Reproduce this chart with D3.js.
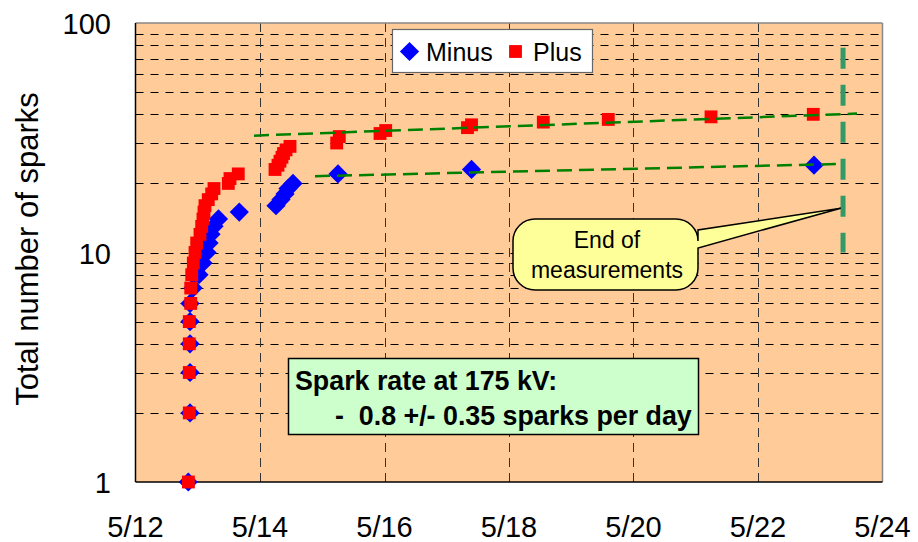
<!DOCTYPE html>
<html>
<head>
<meta charset="utf-8">
<script src="https://cdn.jsdelivr.net/npm/d3@7"></script>
<style>
  html, body { margin: 0; padding: 0; background: #fff; }
  svg { display: block; font-family: Arial, "Liberation Sans", sans-serif; }
</style>
</head>
<body>
<svg id="chart" width="918" height="542"></svg>
<script>
// ---- Data (day of May, cumulative number of sparks) ----
const minusDays   = [12.848, 12.876, 12.876, 12.876, 12.876, 12.876, 12.924, 13.020, 13.084, 13.149, 13.181, 13.213, 13.261, 13.333, 13.667, 14.257, 14.337, 14.402, 14.450, 14.530, 15.253, 17.398, 22.900];
const minusCounts = [1, 2, 3, 4, 5, 6, 7, 8, 9, 10, 11, 12, 13, 14, 15, 16, 17, 18, 19, 20, 22, 23, 24];

const plusDays   = [12.850, 12.864, 12.864, 12.864, 12.864, 12.887, 12.887, 12.903, 12.929, 12.956, 12.983, 13.036, 13.063, 13.084, 13.100, 13.116, 13.169, 13.224, 13.261, 13.491, 13.518, 13.651, 14.241, 14.289, 14.321, 14.353, 14.378, 14.418, 14.482, 15.232, 15.274, 15.928, 16.019, 17.333, 17.398, 18.551, 19.595, 21.245, 22.888];
const plusCounts = [1, 2, 3, 4, 5, 6, 7, 8, 9, 10, 11, 12, 13, 14, 15, 16, 17, 18, 19, 20, 21, 22, 23, 24, 25, 26, 27, 28, 29, 30, 32, 33, 34, 35, 36, 37, 38, 39, 40];

// fitted trend lines (dashed green)
const plusFitDays    = [13.904, 23.590];
const plusFitCounts  = [32.3, 40.3];
const minusFitDays   = [14.884, 23.270];
const minusFitCounts = [21.5, 24.3];

// end of measurements marker
const endDay    = 23.366;
const endCounts = [78, 10];
const calloutTip = [23.33, 15.6];

// axes
const xTickDays   = [12, 14, 16, 18, 20, 22, 24];
const xTickLabels = ["5/12", "5/14", "5/16", "5/18", "5/20", "5/22", "5/24"];
const yTickValues = [1, 10, 100];
const yTickLabels = ["1", "10", "100"];

const seriesNames = ["Minus", "Plus"];
const yTitle = "Total number of sparks";
const boxLines = ["Spark rate at 175 kV:", "-  0.8 +/- 0.35 sparks per day"];
const calloutLines = ["End of", "measurements"];

// ---- Layout ----
const svg = d3.select("#chart");
const L = 135.5, R = 882.5, T = 23, B = 482;
const x = d3.scaleLinear().domain([12, 24]).range([L, R]);
const y = d3.scaleLog().domain([1, 100]).range([B, T]);

// plot background
svg.append("rect").attr("x", L).attr("y", T).attr("width", R - L).attr("height", B - T)
  .attr("fill", "#FFCC99");

// horizontal gridlines (all log ticks between 1 and 100)
const hGrid = [];
for (let d = 1; d <= 10; d *= 10) for (let k = 1; k <= 9; k++) { const v = k * d; if (v > 1 && v < 100) hGrid.push(v); }
svg.append("g").selectAll("line").data(hGrid).join("line")
  .attr("x1", L).attr("x2", R)
  .attr("y1", d => Math.round(y(d)) + 0.5).attr("y2", d => Math.round(y(d)) + 0.5)
  .attr("stroke", "#000").attr("stroke-width", 1).attr("stroke-dasharray", "8,7");

// vertical gridlines
svg.append("g").selectAll("line").data(xTickDays.slice(1, -1)).join("line")
  .attr("x1", d => Math.round(x(d)) + 0.5).attr("x2", d => Math.round(x(d)) + 0.5)
  .attr("y1", T).attr("y2", B)
  .attr("stroke", "#333").attr("stroke-width", 1).attr("stroke-dasharray", "9,6");

// border: top/right gray, left/bottom black
svg.append("line").attr("x1", L).attr("x2", R).attr("y1", T).attr("y2", T).attr("stroke", "#888").attr("stroke-width", 1.5);
svg.append("line").attr("x1", R).attr("x2", R).attr("y1", T).attr("y2", B).attr("stroke", "#888").attr("stroke-width", 1.5);
svg.append("line").attr("x1", L).attr("x2", L).attr("y1", T).attr("y2", B).attr("stroke", "#000").attr("stroke-width", 1.5);
svg.append("line").attr("x1", L).attr("x2", R).attr("y1", B).attr("y2", B).attr("stroke", "#000").attr("stroke-width", 1.5);

// axis labels
svg.append("g").selectAll("text").data(xTickDays).join("text")
  .attr("x", d => x(d)).attr("y", 537)
  .attr("text-anchor", "middle").attr("font-size", 29).attr("fill", "#000")
  .text((d, i) => xTickLabels[i]);
svg.append("g").selectAll("text").data(yTickValues).join("text")
  .attr("x", 111).attr("y", d => y(d) + 11)
  .attr("text-anchor", "end").attr("font-size", 29).attr("fill", "#000")
  .text((d, i) => yTickLabels[i]);
svg.append("text")
  .attr("transform", "translate(38,249) rotate(-90)")
  .attr("text-anchor", "middle").attr("font-size", 31).attr("fill", "#000")
  .text(yTitle);

// markers
const diamond = d3.symbol().type(d3.symbolSquare).size(185);
const square = d3.symbol().type(d3.symbolSquare).size(165);
const minusData = minusDays.map((d, i) => [d, minusCounts[i]]);
const plusData = plusDays.map((d, i) => [d, plusCounts[i]]);

svg.append("g").selectAll("path").data(minusData).join("path")
  .attr("d", diamond)
  .attr("transform", d => `translate(${x(d[0])},${y(d[1])}) rotate(45)`)
  .attr("fill", "#0000FF");
svg.append("g").selectAll("path").data(plusData).join("path")
  .attr("d", square)
  .attr("transform", d => `translate(${x(d[0])},${y(d[1])})`)
  .attr("fill", "#FF0000");

// trend lines
const line = d3.line().x(d => x(d[0])).y(d => y(d[1]));
[[plusFitDays, plusFitCounts], [minusFitDays, minusFitCounts]].forEach(([ds, cs]) => {
  svg.append("path").datum(ds.map((d, i) => [d, cs[i]]))
    .attr("d", line).attr("fill", "none")
    .attr("stroke", "#008000").attr("stroke-width", 2.5).attr("stroke-dasharray", "15,7");
});

// end-of-measurements line
svg.append("path").datum(endCounts.map(c => [endDay, c]))
  .attr("d", line).attr("fill", "none")
  .attr("stroke", "#339966").attr("stroke-width", 5).attr("stroke-dasharray", "21,16");

// callout
const cx0 = 513, cx1 = 698, cy0 = 219, cy1 = 290, r = 22;
const tipX = x(calloutTip[0]), tipY = y(calloutTip[1]);
const cp = d3.path();
cp.moveTo(cx0 + r, cy0);
cp.lineTo(cx1 - r, cy0);
cp.arcTo(cx1, cy0, cx1, cy0 + r, r);
cp.lineTo(cx1, 230);
cp.lineTo(tipX, tipY);
cp.lineTo(cx1, 248);
cp.lineTo(cx1, cy1 - r);
cp.arcTo(cx1, cy1, cx1 - r, cy1, r);
cp.lineTo(cx0 + r, cy1);
cp.arcTo(cx0, cy1, cx0, cy1 - r, r);
cp.lineTo(cx0, cy0 + r);
cp.arcTo(cx0, cy0, cx0 + r, cy0, r);
cp.closePath();
svg.append("path").attr("d", cp.toString())
  .attr("fill", "#FFFF99").attr("stroke", "#000").attr("stroke-width", 1.5);
svg.append("g").selectAll("text").data(calloutLines).join("text")
  .attr("x", 607).attr("y", (d, i) => 248 + i * 30)
  .attr("text-anchor", "middle").attr("font-size", 23).attr("fill", "#000")
  .text(d => d);

// text box
svg.append("rect").attr("x", 288.5).attr("y", 358.5).attr("width", 410).attr("height", 76)
  .attr("fill", "#CCFFCC").attr("stroke", "#000").attr("stroke-width", 1.5);
svg.append("g").selectAll("text").data(boxLines).join("text")
  .attr("x", (d, i) => i === 0 ? 295 : 335).attr("y", (d, i) => 390 + i * 35)
  .attr("font-size", 26.8).attr("font-weight", "bold").attr("fill", "#000")
  .attr("xml:space", "preserve").style("white-space", "pre")
  .text(d => d);

// legend
const lg = svg.append("g");
lg.append("rect").attr("x", 392.5).attr("y", 29.5).attr("width", 200).attr("height", 43)
  .attr("fill", "#fff").attr("stroke", "#666").attr("stroke-width", 1.2);
lg.append("path").attr("d", diamond).attr("transform", "translate(409.5,51.5) rotate(45)").attr("fill", "#0000FF");
lg.append("text").attr("x", 426).attr("y", 61).attr("font-size", 25).attr("fill", "#000").text(seriesNames[0]);
lg.append("path").attr("d", square).attr("transform", "translate(515.5,51.5)").attr("fill", "#FF0000");
lg.append("text").attr("x", 533).attr("y", 61).attr("font-size", 25).attr("fill", "#000").text(seriesNames[1]);
</script>
</body>
</html>
